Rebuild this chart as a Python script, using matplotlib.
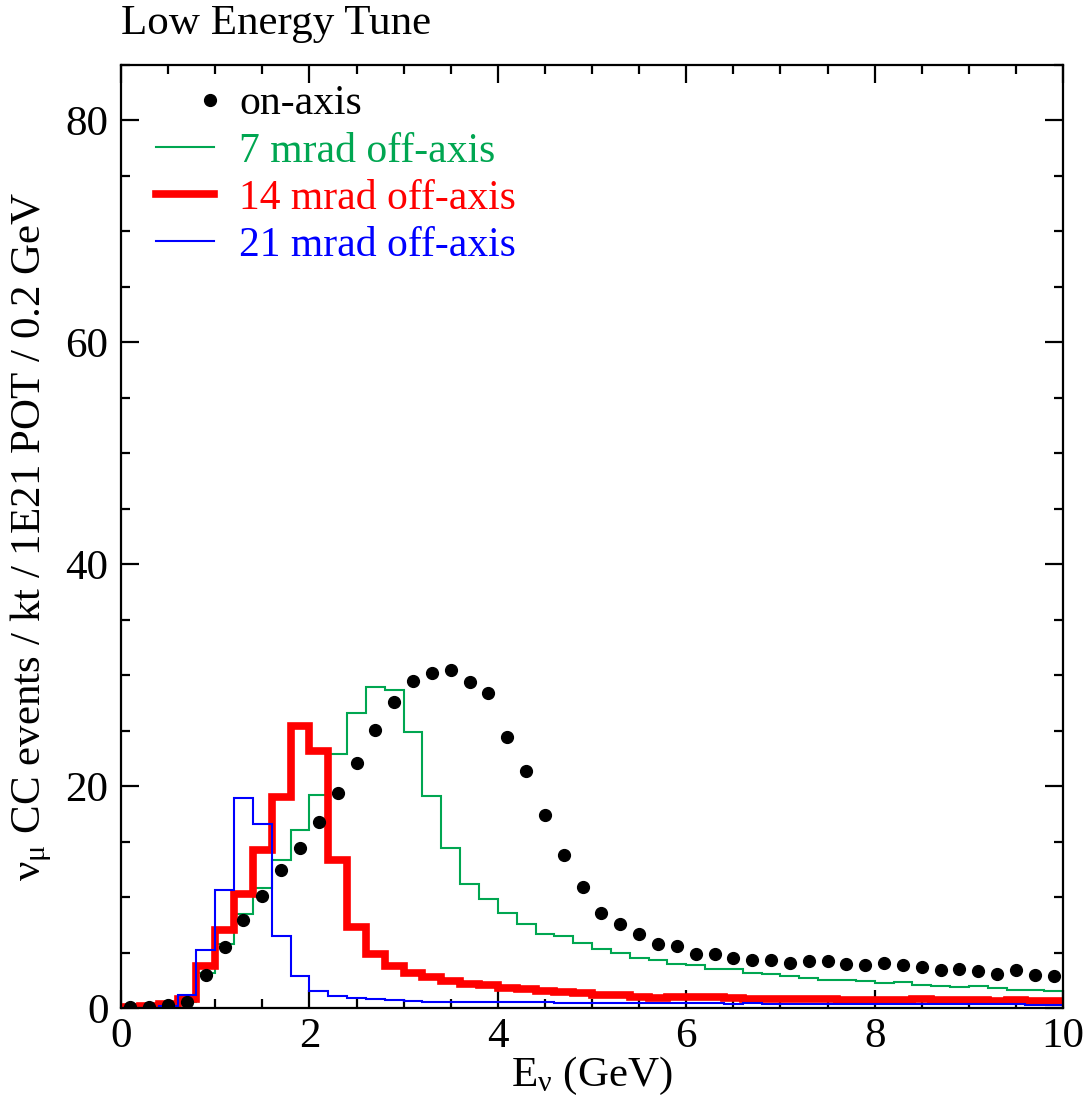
import numpy as np
import matplotlib
matplotlib.use('Agg')
import matplotlib.pyplot as plt
from matplotlib.lines import Line2D
from matplotlib.legend_handler import HandlerLine2DCompound
from matplotlib.ticker import MultipleLocator

plt.rcParams['font.family'] = ['Liberation Serif', 'DejaVu Serif']
plt.rcParams['mathtext.fontset'] = 'custom'
plt.rcParams['mathtext.rm'] = 'Liberation Serif'
plt.rcParams['mathtext.it'] = 'Liberation Serif:italic'


### Data: nu_mu CC events per 0.2 GeV bin, 0-10 GeV
edges = np.linspace(0, 10, 51)

on_axis = [0.1, 0.1, 0.3, 0.5, 3.0, 5.5, 7.9, 10.1, 12.4, 14.4,
           16.8, 19.35, 22.1, 25.1, 27.6, 29.5, 30.2, 30.5, 29.4, 28.4,
           24.4, 21.4, 17.4, 13.8, 10.9, 8.6, 7.6, 6.7, 5.8, 5.55,
           4.9, 4.85, 4.5, 4.35, 4.3, 4.1, 4.2, 4.2, 4.0, 3.9,
           4.05, 3.9, 3.7, 3.4, 3.5, 3.3, 3.1, 3.4, 3.0, 2.9]

mrad7 = [0.0, 0.0, 0.1, 0.55, 3.2, 5.8, 8.5, 10.8, 13.3, 16.05,
         19.2, 22.9, 26.6, 28.9, 28.65, 24.9, 19.1, 14.4, 11.2, 9.8,
         8.55, 7.55, 6.65, 6.5, 5.9, 5.3, 5.0, 4.5, 4.3, 3.96,
         3.9, 3.54, 3.56, 3.2, 3.03, 2.9, 2.73, 2.52, 2.55, 2.43,
         2.28, 2.37, 2.1, 1.98, 1.89, 1.99, 1.83, 1.65, 1.62, 1.56]

mrad14 = [0.1, 0.2, 0.35, 0.8, 3.8, 7.0, 10.3, 14.2, 19.0, 25.4,
          23.2, 13.3, 7.3, 4.9, 3.8, 3.2, 2.76, 2.46, 2.2, 2.07,
          1.83, 1.68, 1.53, 1.41, 1.38, 1.2, 1.14, 1.02, 0.9, 1.02,
          1.0, 0.95, 0.9, 0.85, 0.85, 0.8, 0.85, 0.8, 0.75, 0.75,
          0.7, 0.75, 0.8, 0.75, 0.7, 0.75, 0.65, 0.7, 0.65, 0.6]

mrad21 = [0.0, 0.0, 0.15, 1.2, 5.2, 10.6, 18.9, 16.56, 6.5, 2.9,
          1.56, 1.1, 0.93, 0.78, 0.69, 0.66, 0.57, 0.57, 0.51, 0.57,
          0.55, 0.5, 0.5, 0.48, 0.45, 0.45, 0.45, 0.42, 0.45, 0.45,
          0.42, 0.42, 0.4, 0.42, 0.4, 0.4, 0.38, 0.4, 0.38, 0.38,
          0.36, 0.36, 0.35, 0.35, 0.34, 0.33, 0.33, 0.32, 0.3, 0.3]

labels = ['on-axis', '7 mrad off-axis', '14 mrad off-axis', '21 mrad off-axis']
colors = ['black', '#00a651', '#ff0000', '#0000ff']
widths = [1.5, 5.5, 1.5]


class RightDot(HandlerLine2DCompound):
    # put the single legend marker at the right end of the handle
    def get_xdata(self, legend, xdescent, ydescent, width, height, fontsize):
        xdata, _ = super().get_xdata(legend, xdescent, ydescent, width, height, fontsize)
        return xdata, np.array([width - xdescent - 3])


### Charting
fig = plt.figure(figsize=(10.87, 11.07), dpi=100)
ax = fig.add_axes([0.1113, 0.0894, 0.8667, 0.8519])

centers = 0.5 * (edges[:-1] + edges[1:])
for vals, c, lw in zip([mrad7, mrad14, mrad21], colors[1:], widths):
    ax.stairs(vals, edges, baseline=None, color=c, lw=lw, zorder=2)
ax.plot(centers, on_axis, 'o', color='black', markersize=8.5, zorder=3)

ax.set_xlim(0, 10)
ax.set_ylim(0, 85)
ax.xaxis.set_major_locator(MultipleLocator(2))
ax.xaxis.set_minor_locator(MultipleLocator(0.5))
ax.yaxis.set_major_locator(MultipleLocator(20))
ax.yaxis.set_minor_locator(MultipleLocator(5))
ax.tick_params(which='both', direction='in', top=True, right=True, width=1.6, labelsize=31)
ax.tick_params(which='major', length=13)
ax.tick_params(which='minor', length=6.5)
ax.tick_params(axis='x', pad=7)
ax.tick_params(axis='y', pad=9)
for s in ax.spines.values():
    s.set_linewidth(1.6)

ax.set_xlabel(r'E$_{\mathrm{\nu}}$ (GeV)', fontsize=31)
ax.xaxis.label.set_verticalalignment('baseline')
ax.xaxis.set_label_coords(0.5, -0.0827)
ax.set_ylabel(r'$\mathrm{\nu}_{\mathrm{\mu}}$ CC events / kt / 1E21 POT / 0.2 GeV', fontsize=31)
ax.yaxis.label.set_verticalalignment('center')
ax.yaxis.set_label_coords(-0.0955, 0.5)

fig.text(0.1113, 1 - 34 / 1107, 'Low Energy Tune', fontsize=31, va='baseline', ha='left')

handles = [Line2D([], [], marker='o', ls='none', color='black', markersize=8.5)]
handles += [Line2D([], [], color=c, lw=lw) for c, lw in zip(colors[1:], widths)]
leg = ax.legend(handles, labels, loc='upper left', bbox_to_anchor=(0.037, 0.979),
                frameon=False, fontsize=30, handlelength=1.4, handletextpad=0.6,
                labelspacing=0.21, borderpad=0, borderaxespad=0, numpoints=1,
                labelcolor='linecolor', handler_map={handles[0]: RightDot()})

plt.savefig('out.png', dpi=100)
